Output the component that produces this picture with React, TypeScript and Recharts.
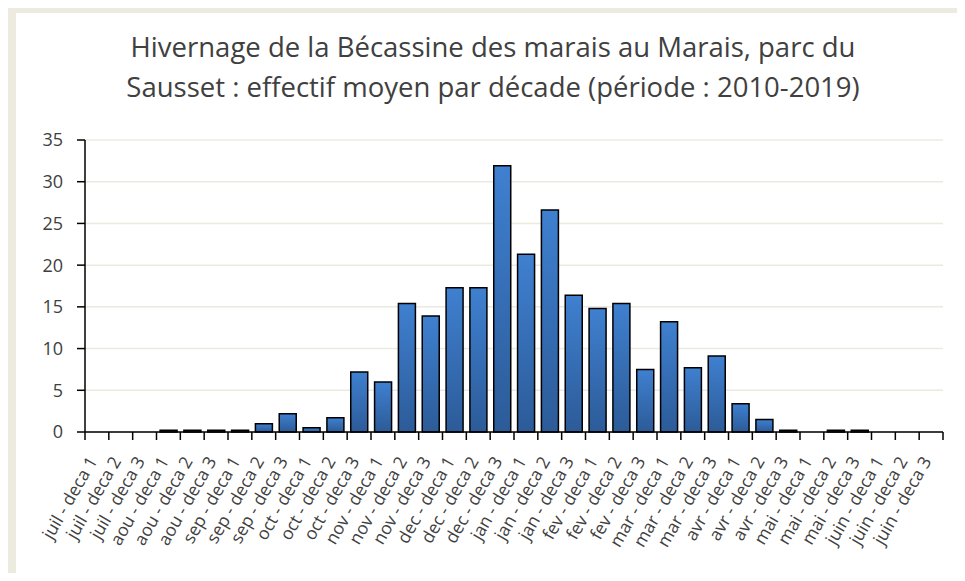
import { BarChart, Bar, XAxis, YAxis, CartesianGrid } from 'recharts';

const months = ['juil', 'aou', 'sep', 'oct', 'nov', 'dec', 'jan', 'fev', 'mar', 'avr', 'mai', 'juin'];
const decades = ['deca 1', 'deca 2', 'deca 3'];
const categories = months.flatMap((m) => decades.map((d) => `${m} - ${d}`));

const effectif = [
  0, 0, 0,
  0.2, 0.2, 0.2,
  0.2, 1.0, 2.2,
  0.5, 1.7, 7.2,
  6.0, 15.4, 13.9,
  17.3, 17.3, 31.9,
  21.3, 26.6, 16.4,
  14.8, 15.4, 7.5,
  13.2, 7.7, 9.1,
  3.4, 1.5, 0.2,
  0, 0.2, 0.2,
  0, 0, 0,
];

const yTicks = [0, 5, 10, 15, 20, 25, 30, 35];

const titleLines = [
  'Hivernage de la Bécassine des marais au Marais, parc du',
  'Sausset : effectif moyen par décade (période : 2010-2019)',
];

const data = categories.map((name, i) => ({ name, value: effectif[i] }));

const W = 965;
const H = 581;
const PLOT_LEFT = 85;
const PLOT_TOP = 140;
const PLOT_RIGHT = 943;
const PLOT_BOTTOM = 432;
const band = (PLOT_RIGHT - PLOT_LEFT) / categories.length;
const FONT = '"Open Sans", sans-serif';

function XTick(props: any) {
  const { x, y, payload, index } = props;
  const tx = x + 1;
  const ty = y + 29;
  return (
    <g>
      <line x1={x - band / 2} x2={x - band / 2} y1={y} y2={y + 8} stroke="#000" strokeWidth={1.5} />
      {index === categories.length - 1 && (
        <line x1={x + band / 2} x2={x + band / 2} y1={y} y2={y + 8} stroke="#000" strokeWidth={1.5} />
      )}
      <text
        x={tx}
        y={ty}
        textAnchor="end"
        fill="#404040"
        fontSize={17.5}
        fontFamily={FONT}
        transform={`rotate(-60 ${tx} ${ty})`}
      >
        {payload.value}
      </text>
    </g>
  );
}

export default function App() {
  return (
    <div style={{ position: 'relative', width: W, height: H, margin: -8, background: '#fff', overflow: 'hidden' }}>
      <div
        style={{
          position: 'absolute',
          left: 8,
          top: 5,
          right: 0,
          bottom: 0,
          borderTop: '8px solid #EDEBE0',
          borderLeft: '8px solid #EDEBE0',
          borderTopLeftRadius: 3,
        }}
      />
      <div
        style={{
          position: 'absolute',
          left: 0,
          width: 986,
          top: 27,
          textAlign: 'center',
          fontFamily: FONT,
          fontSize: 27.5,
          lineHeight: '40px',
          color: '#404040',
          whiteSpace: 'nowrap',
        }}
      >
        {titleLines.map((t) => (
          <div key={t}>{t}</div>
        ))}
      </div>
      <div style={{ position: 'absolute', left: 0, top: 0 }}>
        <BarChart
          width={W}
          height={H}
          data={data}
          margin={{ top: PLOT_TOP, right: W - PLOT_RIGHT, bottom: 0, left: 0 }}
          barCategoryGap="15%"
        >
          <defs>
            <linearGradient id="barGrad" x1="0" y1="0" x2="0" y2="1">
              <stop offset="0%" stopColor="#3F80D0" />
              <stop offset="100%" stopColor="#2C5B98" />
            </linearGradient>
          </defs>
          <CartesianGrid vertical={false} stroke="#ECEAE0" strokeWidth={1.5} />
          <XAxis
            dataKey="name"
            interval={0}
            height={H - PLOT_BOTTOM}
            tickSize={0}
            tickMargin={0}
            tickLine={false}
            axisLine={{ stroke: '#000', strokeWidth: 1.5 }}
            tick={<XTick />}
          />
          <YAxis
            domain={[0, 35]}
            ticks={yTicks}
            interval={0}
            tickSize={8}
            tickMargin={14}
            width={PLOT_LEFT}
            axisLine={{ stroke: '#000', strokeWidth: 1.5 }}
            tickLine={{ stroke: '#000', strokeWidth: 1.5 }}
            tick={{ fill: '#404040', fontSize: 18, fontFamily: FONT }}
          />
          <Bar dataKey="value" fill="url(#barGrad)" stroke="#000" strokeWidth={1.5} isAnimationActive={false} />
        </BarChart>
      </div>
    </div>
  );
}
